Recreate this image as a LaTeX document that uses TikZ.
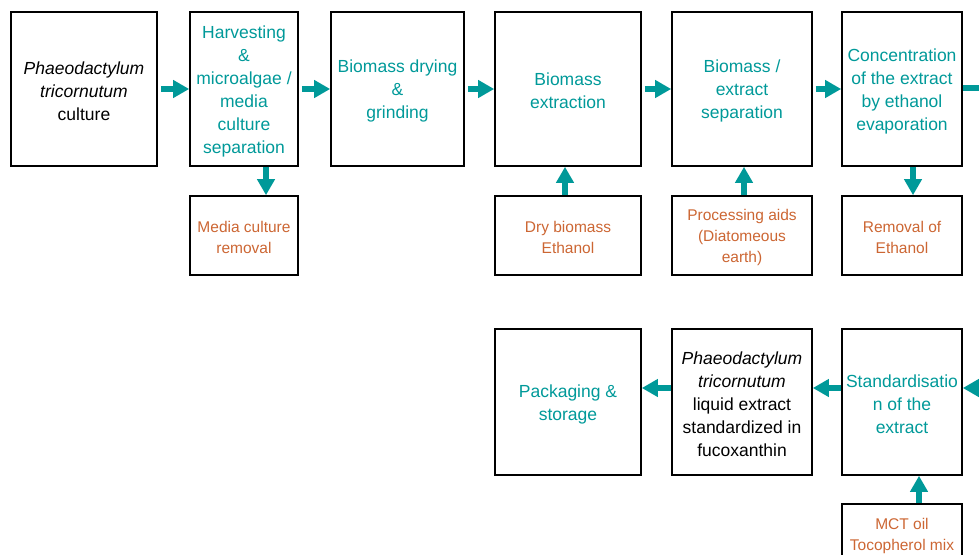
\documentclass[tikz,border=0pt]{standalone}
\usepackage{fontspec}
\setmainfont{Liberation Sans}
\usetikzlibrary{arrows.meta}
\definecolor{tealc}{RGB}{0,153,153}
\definecolor{orangec}{RGB}{204,102,51}
\tikzset{
  stepbox/.style={draw=black, line width=1.6pt, inner sep=0pt},
  steptext/.style={inner sep=0pt, align=center, font=\fontsize{17.5pt}{23pt}\selectfont},
  sidetext/.style={inner sep=0pt, align=center, text=orangec, font=\fontsize{15.5pt}{21pt}\selectfont},
  flow/.style={draw=tealc, line width=6pt, -{Triangle[length=16pt,width=17pt]}},
  flowline/.style={draw=tealc, line width=6pt}
}
\begin{document}
\begin{tikzpicture}[x=1pt,y=-1pt]
\useasboundingbox (0,0) rectangle (979,554);
\clip (0,0) rectangle (979,554);
% top row boxes
\node[stepbox, minimum width=146pt, minimum height=154pt] (b1) at (84,89) {};
\node[stepbox, minimum width=108pt, minimum height=154pt] (b2) at (244,89) {};
\node[stepbox, minimum width=133pt, minimum height=154pt] (b3) at (397.5,89) {};
\node[stepbox, minimum width=146pt, minimum height=154pt] (b4) at (568,89) {};
\node[stepbox, minimum width=140pt, minimum height=154pt] (b5) at (742,89) {};
\node[stepbox, minimum width=120pt, minimum height=154pt] (b6) at (902,89) {};
% side boxes
\node[stepbox, minimum width=108pt, minimum height=79pt] (m) at (244,235.5) {};
\node[stepbox, minimum width=146pt, minimum height=79pt] (d) at (568,235.5) {};
\node[stepbox, minimum width=140pt, minimum height=79pt] (p) at (742,235.5) {};
\node[stepbox, minimum width=120pt, minimum height=79pt] (r) at (902,235.5) {};
% bottom row
\node[stepbox, minimum width=146pt, minimum height=146pt] (pack) at (568,402) {};
\node[stepbox, minimum width=140pt, minimum height=146pt] (ph) at (742,402) {};
\node[stepbox, minimum width=120pt, minimum height=146pt] (std) at (902,402) {};
\node[stepbox, minimum width=120pt, minimum height=58pt] (mct) at (902,533) {};
% texts
\node[steptext] (b1t) at ([yshift=-2pt]b1.center)
  {\itshape Phaeodactylum\\ \itshape tricornutum\\ culture};
\node[steptext, text=tealc] (b2t) at ([yshift=-2pt]b2.center)
  {Harvesting\\ \&\\ microalgae /\\ media\\ culture\\ separation};
\node[steptext, text=tealc] (b3t) at ([yshift=-2pt]b3.center)
  {Biomass drying\\ \&\\ grinding};
\node[steptext, text=tealc] (b4t) at ([yshift=-2pt]b4.center)
  {Biomass\\ extraction};
\node[steptext, text=tealc] (b5t) at ([yshift=-2pt]b5.center)
  {Biomass /\\ extract\\ separation};
\node[steptext, text=tealc] (b6t) at ([yshift=-2pt]b6.center)
  {Concentration\\ of the extract\\ by ethanol\\ evaporation};
\node[sidetext] (mt) at ([yshift=-1.5pt]m.center) {Media culture\\ removal};
\node[sidetext] (dt) at ([yshift=-1.5pt]d.center) {Dry biomass\\ Ethanol};
\node[sidetext] (pt) at ([yshift=-1.5pt]p.center) {Processing aids\\ (Diatomeous\\ earth)};
\node[sidetext] (rt) at ([yshift=-1.5pt]r.center) {Removal of\\ Ethanol};
\node[steptext, text=tealc] (packt) at ([yshift=-2pt]pack.center)
  {Packaging \&\\ storage};
\node[steptext] (pht) at ([yshift=-2pt]ph.center)
  {\itshape Phaeodactylum\\ \itshape tricornutum\\ liquid extract\\ standardized in\\ fucoxanthin};
\node[steptext, text=tealc] (stdt) at ([yshift=-2pt]std.center)
  {Standardisatio\\ n of the\\ extract};
\node[sidetext] (mctt) at ([yshift=-2.5pt]mct.center) {MCT oil\\ Tocopherol mix};
\coordinate (outr) at (990,88);
\coordinate (inr) at (1000,388);
% connectors
\draw[flow, shorten <=3pt] (b1.east) -- (b2.west);
\draw[flow, shorten <=3pt] (b2.east) -- (b3.west);
\draw[flow, shorten <=3pt] (b3.east) -- (b4.west);
\draw[flow, shorten <=3pt] (b4.east) -- (b5.west);
\draw[flow, shorten <=3pt] (b5.east) -- (b6.west);
\draw[flowline] (b6.east |- outr) -- (outr);
\draw[flow] ([xshift=22pt]b2.south) -- ([xshift=22pt]m.north);
\draw[flow] ([xshift=-3pt]d.north) -- ([xshift=-3pt]b4.south);
\draw[flow] ([xshift=2pt]p.north) -- ([xshift=2pt]b5.south);
\draw[flow] ([xshift=11pt]b6.south) -- ([xshift=11pt]r.north);
\draw[flow] ([xshift=17pt]mct.north) -- ([xshift=17pt]std.south);
\draw[flow] (inr) -- (inr -| std.east);
\draw[flow] ([yshift=14pt]std.west) -- ([yshift=14pt]ph.east);
\draw[flow] ([yshift=14pt]ph.west) -- ([yshift=14pt]pack.east);
\end{tikzpicture}
\end{document}
